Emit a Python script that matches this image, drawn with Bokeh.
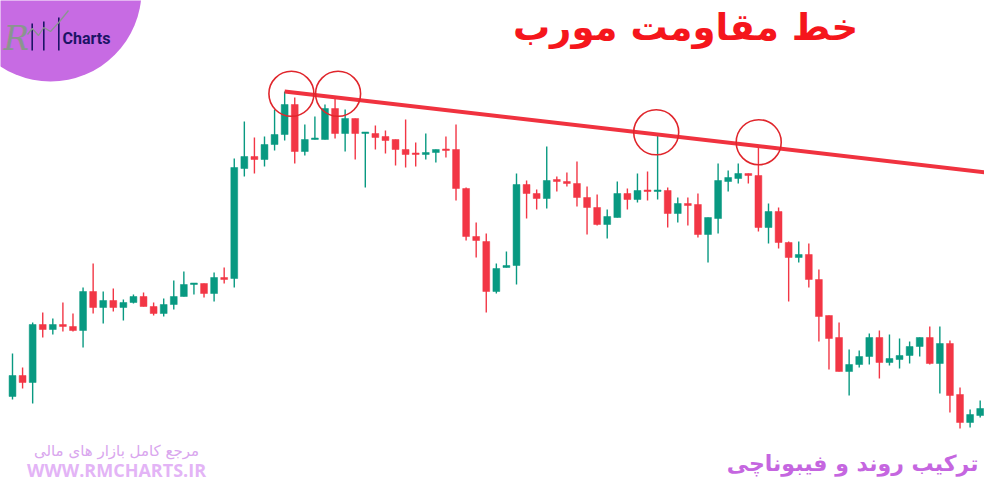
from bokeh.plotting import figure
from bokeh.models import ColumnDataSource, Label
from bokeh.embed import file_html
from bokeh.resources import INLINE

# ---- candle data (price units) ----
opens = [104,125,118,176,171,176,174,170,209,193,200,193,198,204,194,187,196,204,216,217,
         207,223,222,332,344,341,356,366,396,349,361,361,392,367,382,367,367,364,361,351,
         347,346,348,351,351,312,264,259,209,233,235,316,307,302,321,319,317,303,293,276,
         283,307,301,310,309,310,287,297,296,266,282,319,322,327,325,273,289,258,243,246,
         221,185,163,129,136,144,163,138,141,145,154,163,137,157,106,78,85]
highs = [147,133,178,188,182,198,187,213,237,209,212,201,206,208,198,202,220,229,217,217,
         228,233,342,379,363,364,391,409,403,376,384,396,403,391,382,368,375,370,361,381,
         358,367,351,364,376,313,278,267,237,249,327,320,311,354,324,328,339,314,306,291,
         319,312,327,329,365,313,303,303,307,283,337,330,337,327,355,297,293,259,259,257,
         231,185,178,151,150,167,170,166,162,159,163,174,174,160,113,91,100]
lows = [101,112,97,163,166,169,169,153,187,177,189,180,197,194,185,184,191,204,206,203,
        199,217,213,324,327,334,350,360,337,345,361,361,362,349,341,313,351,347,335,333,
        334,341,338,343,300,260,243,188,207,233,216,282,291,292,309,314,294,266,275,262,
        283,291,298,300,301,273,278,275,263,238,267,309,317,317,269,257,252,199,238,213,
        159,131,129,105,133,136,122,135,132,137,144,136,107,88,72,73,83]
closes = [125,118,176,171,176,174,170,209,193,200,193,198,204,194,187,196,204,216,217,207,
          223,221,333,344,341,356,366,396,349,361,362,392,367,382,367,368,363,360,351,346,
          346,348,351,350,312,264,260,209,232,235,316,307,302,320,319,317,303,293,276,284,
          307,301,310,309,310,287,297,295,266,283,320,323,327,325,273,289,258,243,246,221,
          184,162,129,136,144,163,138,142,145,154,163,137,157,105,78,86,92]

# diagonal resistance line (candle index, price) and touch points
res_x = [27, 97.5]
res_y = [409, 327]
touch_x = [27.67, 32.3, 63.86, 74.03]
touch_y = [406.7, 406.7, 368.2, 358.3]

title = "خط مقاومت مورب"
sub_fa = "مرجع کامل بازار های مالی"
site = "WWW.RMCHARTS.IR"
footer = "ترکیب روند و فیبوناچی"

GREEN = "#089981"
RED = "#f23645"

n = len(opens)
idx = list(range(n))
tops, bots, cols = [], [], []
for o, c in zip(opens, closes):
    t, b = max(o, c), min(o, c)
    if t - b < 1.5:
        t = b + 1.5
    tops.append(t)
    bots.append(b)
    cols.append(GREEN if c >= o else RED)

src = ColumnDataSource(dict(x=idx, top=tops, bottom=bots, high=highs, low=lows, color=cols))

W, H = 984, 484
A, B = 12.0, 10.08  # candle index -> pixel: A + B*i
p = figure(width=W, height=H, output_backend="svg", toolbar_location=None,
           x_range=(-A / B, (W - A) / B), y_range=(500 - H, 500), min_border=0)
p.axis.visible = False
p.grid.visible = False
p.outline_line_color = None
p.background_fill_color = "white"
p.border_fill_color = "white"

def dx(px):
    return (px - A) / B

def dy(py):
    return 500 - py

# logo circle
p.scatter([dx(50)], [dy(-10)], size=182, marker="circle", fill_color="#c76be3", line_color=None)

# candles
p.segment(x0="x", y0="high", x1="x", y1="low", source=src, line_color="color", line_width=1.4)
p.vbar(x="x", top="top", bottom="bottom", width=0.68, source=src, fill_color="color",
       line_color="color", line_width=0.5)

# resistance line and circles
p.line(res_x, res_y, line_color="#f0323f", line_width=4)
p.scatter(touch_x, touch_y, size=45, marker="circle", fill_color=None, line_color="#e0262c", line_width=1.6)

# logo details
p.multi_line([[dx(31.7), dx(31.7)], [dx(43.3), dx(43.3)], [dx(58.3), dx(58.3)]],
             [[dy(23), dy(50)], [dy(21), dy(50)], [dy(17), dy(50)]],
             line_color="#1c1466", line_width=1.6)
p.line([dx(27), dx(31.7), dx(38), dx(43.3), dx(50), dx(58.3), dx(68)],
       [dy(34), dy(28), dy(35), dy(27), dy(31), dy(22), dy(10)],
       line_color="#8a9590", line_width=1.3)
p.add_layout(Label(x=3, y=H - 37, x_units="screen", y_units="screen", text="R",
                   text_font="DejaVu Serif", text_font_style="italic", text_font_size="34px",
                   text_color="#8a9590", text_baseline="middle", text_align="left"))
p.add_layout(Label(x=62, y=H - 38, x_units="screen", y_units="screen", text="Charts",
                   text_font="Roboto", text_font_style="bold", text_font_size="16px",
                   text_color="#1c1466", text_baseline="middle", text_align="left"))

# texts
p.add_layout(Label(x=685, y=H - 27, x_units="screen", y_units="screen", text=title,
                   text_font="DejaVu Sans", text_font_style="bold", text_font_size="37px",
                   text_color="#f5161c", text_baseline="middle", text_align="center"))
p.add_layout(Label(x=116, y=H - 450, x_units="screen", y_units="screen", text=sub_fa,
                   text_font="DejaVu Sans", text_font_size="15px",
                   text_color="#d9a6ee", text_baseline="middle", text_align="center"))
p.add_layout(Label(x=116, y=H - 469, x_units="screen", y_units="screen", text=site,
                   text_font="Open Sans", text_font_style="bold", text_font_size="18px",
                   text_color="#e3b4f6", text_baseline="middle", text_align="center"))
p.add_layout(Label(x=978, y=H - 463, x_units="screen", y_units="screen", text=footer,
                   text_font="DejaVu Sans", text_font_style="bold", text_font_size="22px",
                   text_color="#c566e0", text_baseline="middle", text_align="right"))

open("out.html", "w").write(file_html(p, INLINE))
